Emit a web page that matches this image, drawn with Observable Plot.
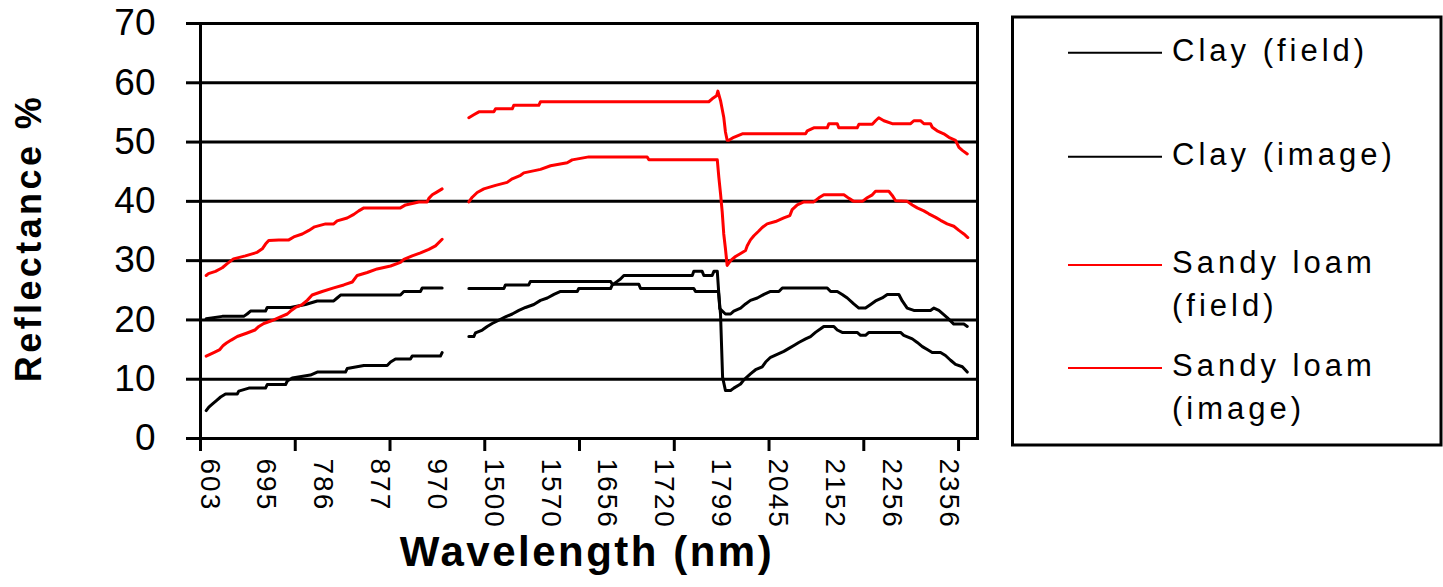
<!DOCTYPE html>
<html>
<head>
<meta charset="utf-8">
<script src="https://cdn.jsdelivr.net/npm/d3@7"></script>
<script src="https://cdn.jsdelivr.net/npm/@observablehq/plot@0.6"></script>
<style>
  html, body { margin: 0; padding: 0; background: #fff; }
  #wrap { position: relative; width: 1443px; height: 587px; }
  #legend { position: absolute; left: 0; top: 0; pointer-events: none; }
  #legend text { letter-spacing: 4px; }
</style>
</head>
<body>
<div id="wrap"></div>
<script>
// ---- Data (x = category index along the band axis, y = reflectance %) ----
const yTicks = [0, 10, 20, 30, 40, 50, 60, 70];
const tickPositions = [0, 5, 10, 15, 20, 25, 30, 35, 40];
const wavelengthLabels = [603, 695, 786, 877, 970, 1500, 1570, 1656, 1720, 1799, 2045, 2152, 2256, 2356];
const labelStep = 3;

const clayFieldLeft = [[0.30,20.2],[1.15,20.6],[2.28,20.6],[2.46,21.0],[2.64,21.5],[3.43,21.5],[3.52,22.1],[4.75,22.1],[5.54,22.6],[6.16,23.2],[7.03,23.2],[7.21,23.7],[7.39,24.2],[10.55,24.2],[10.73,24.8],[11.61,24.8],[11.70,25.4],[12.75,25.4]];
const clayFieldRight = [[14.16,25.3],[16.01,25.3],[16.09,25.9],[17.32,25.9],[17.41,26.5],[21.64,26.5],[21.73,26.0],[23.13,26.0],[23.22,25.3],[26.03,25.3],[26.12,24.8],[27.33,24.8],[27.44,21.0],[27.55,10.3],[27.70,8.1],[27.97,8.1],[28.14,8.5],[28.50,9.2],[28.67,9.9],[29.02,10.9],[29.29,11.6],[29.64,12.1],[29.82,12.9],[30.08,13.7],[30.43,14.2],[30.78,14.7],[31.05,15.2],[31.31,15.7],[31.57,16.2],[31.93,16.8],[32.19,17.2],[32.45,17.9],[32.72,18.5],[32.89,18.9],[33.42,18.9],[33.60,18.3],[33.86,17.9],[34.65,17.9],[34.83,17.4],[35.09,17.4],[35.27,17.9],[36.94,17.9],[37.11,17.4],[37.56,16.8],[37.82,16.2],[38.09,15.5],[38.35,15.0],[38.61,14.5],[39.05,14.5],[39.31,14.0],[39.58,13.2],[39.84,12.5],[40.20,12.1],[40.46,11.2]];

const clayImageLeft = [[0.30,4.7],[0.44,5.3],[0.62,5.8],[0.84,6.4],[1.06,7.0],[1.32,7.5],[1.94,7.5],[2.02,8.0],[2.55,8.5],[3.43,8.5],[3.52,9.1],[4.49,9.1],[4.58,9.7],[4.84,10.2],[5.80,10.7],[6.16,11.2],[7.65,11.2],[7.74,11.8],[8.62,12.3],[9.85,12.3],[10.03,12.9],[10.29,13.4],[11.08,13.4],[11.17,13.9],[12.66,13.9],[12.75,14.5]];
const clayImageRight = [[14.16,17.2],[14.42,17.2],[14.51,17.8],[14.87,18.3],[15.13,18.9],[15.39,19.4],[16.09,20.5],[16.45,21.0],[16.80,21.6],[17.15,22.1],[17.59,22.6],[17.94,23.3],[18.30,23.7],[18.65,24.3],[19.00,24.8],[19.88,24.8],[19.96,25.3],[21.64,25.3],[21.73,25.9],[21.99,26.5],[22.16,26.9],[22.34,27.5],[25.95,27.5],[26.03,28.2],[26.47,28.2],[26.56,27.5],[27.00,27.5],[27.09,28.2],[27.27,28.2],[27.35,24.4],[27.40,21.9],[27.70,21.0],[27.97,21.0],[28.14,21.5],[28.50,22.0],[28.76,22.7],[29.02,23.3],[29.38,23.7],[29.73,24.3],[30.08,24.8],[30.52,24.8],[30.70,25.4],[33.07,25.4],[33.25,24.8],[33.60,24.8],[33.86,24.3],[34.13,23.7],[34.47,22.7],[34.74,22.0],[35.09,22.0],[35.36,22.6],[35.62,23.2],[35.97,23.7],[36.24,24.3],[36.85,24.3],[37.03,23.2],[37.29,22.0],[37.64,21.6],[38.52,21.6],[38.70,22.0],[38.96,21.6],[39.22,20.9],[39.40,20.4],[39.75,19.3],[40.28,19.3],[40.46,18.9]];

const sandyFieldLeft = [[0.30,27.5],[0.42,27.8],[0.79,28.2],[1.15,28.8],[1.41,29.5],[1.74,30.3],[2.37,30.8],[2.99,31.4],[3.26,32.0],[3.43,32.8],[3.60,33.4],[4.13,33.5],[4.66,33.5],[4.92,34.0],[5.37,34.5],[5.72,35.1],[6.02,35.7],[6.60,36.2],[7.03,36.2],[7.21,36.7],[7.74,37.2],[8.09,37.8],[8.35,38.4],[8.62,38.9],[10.55,38.9],[10.82,39.4],[11.52,39.9],[11.96,39.9],[12.05,40.5],[12.23,41.1],[12.49,41.6],[12.75,42.1]];
const sandyFieldRight = [[14.16,54.1],[14.42,54.6],[14.69,55.1],[15.48,55.1],[15.57,55.6],[16.45,55.6],[16.53,56.2],[17.85,56.2],[17.94,56.8],[26.82,56.8],[27.00,57.3],[27.23,57.8],[27.30,58.6],[27.44,57.0],[27.61,54.2],[27.70,51.7],[27.79,50.3],[27.88,50.3],[28.14,50.8],[28.59,51.4],[31.93,51.4],[32.02,51.9],[32.36,52.4],[33.07,52.4],[33.16,53.1],[33.60,53.1],[33.68,52.4],[34.65,52.4],[34.74,53.0],[35.45,53.0],[35.62,53.6],[35.79,54.1],[36.06,53.6],[36.50,53.1],[37.47,53.1],[37.64,53.6],[37.99,53.6],[38.17,53.1],[38.52,53.1],[38.61,52.5],[38.87,51.9],[39.22,51.4],[39.49,50.8],[39.84,50.3],[40.02,49.1],[40.20,48.6],[40.46,48.0]];

const sandyImageLeft = [[0.30,13.9],[0.70,14.5],[1.02,15.0],[1.20,15.7],[1.37,16.1],[1.62,16.6],[1.94,17.2],[2.46,17.8],[2.87,18.3],[3.08,18.9],[3.34,19.4],[3.78,19.9],[4.22,20.5],[4.58,21.0],[4.75,21.5],[5.01,22.1],[5.37,22.6],[5.63,23.3],[5.89,24.2],[6.42,24.8],[7.03,25.4],[7.56,25.9],[8.01,26.4],[8.27,27.5],[8.80,28.0],[9.32,28.6],[10.03,29.1],[10.55,29.7],[10.73,30.2],[11.17,30.8],[11.61,31.3],[12.05,31.9],[12.40,32.5],[12.75,33.6]];
const sandyImageRight = [[14.16,39.9],[14.34,40.7],[14.60,41.5],[14.95,42.1],[15.57,42.7],[16.18,43.2],[16.45,43.8],[16.89,44.4],[17.06,44.8],[17.94,45.4],[18.47,46.0],[19.35,46.5],[19.61,47.0],[20.49,47.5],[23.57,47.5],[23.66,47.0],[27.27,47.0],[27.35,44.1],[27.44,41.3],[27.53,38.2],[27.61,34.5],[27.70,32.0],[27.79,29.2],[27.97,30.0],[28.23,30.7],[28.50,31.2],[28.76,31.7],[28.85,32.5],[29.02,33.5],[29.20,34.2],[29.46,35.0],[29.64,35.6],[29.90,36.2],[30.34,36.6],[30.78,37.2],[31.10,37.6],[31.22,38.6],[31.49,39.4],[31.84,39.9],[32.36,39.9],[32.63,40.6],[32.89,41.1],[33.95,41.1],[34.22,40.5],[34.47,40.0],[34.92,40.0],[35.18,40.6],[35.45,41.1],[35.62,41.7],[36.32,41.7],[36.50,41.0],[36.68,40.1],[37.29,40.0],[37.56,39.4],[37.82,38.9],[38.17,38.4],[38.43,37.9],[38.79,37.3],[39.05,36.8],[39.40,36.2],[39.75,35.8],[40.02,35.1],[40.28,34.5],[40.49,33.9]];

const seriesNames = ["Clay (field)", "Clay (image)", "Sandy loam (field)", "Sandy loam (image)"];
const seriesColors = ["#000000", "#000000", "#ff0000", "#ff0000"];
const seriesSegments = [
  [clayFieldLeft, clayFieldRight],
  [clayImageLeft, clayImageRight],
  [sandyFieldLeft, sandyFieldRight],
  [sandyImageLeft, sandyImageRight]
];
const legendLines = [["Clay (field)"], ["Clay (image)"], ["Sandy loam", "(field)"], ["Sandy loam", "(image)"]];
const xTitle = "Wavelength (nm)";
const yTitle = "Reflectance %";

// ---- Build table ----
const rows = [];
seriesNames.forEach((name, s) => {
  seriesSegments[s].forEach((seg, j) => {
    seg.forEach(([i, v]) => rows.push({i, v, key: name + "#" + j, color: seriesColors[s]}));
  });
});
const labelPositions = wavelengthLabels.map((_, k) => k * labelStep);

const chart = Plot.plot({
  width: 1443,
  height: 587,
  marginLeft: 200,
  marginRight: 466,
  marginTop: 23,
  marginBottom: 149,
  x: {domain: [0, 41]},
  y: {domain: [0, 70]},
  style: {fontFamily: "'Liberation Sans', Arial, sans-serif", background: "#fff", color: "#000", overflow: "visible"},
  marks: [
    Plot.ruleY(yTicks, {stroke: "#000", strokeWidth: 3}),
    Plot.frame({stroke: "#000", strokeWidth: 3}),
    Plot.axisY({ticks: yTicks, tickSize: 14, tickPadding: 31, fontSize: 37, strokeWidth: 3, label: null, tickFormat: d => String(d)}),
    Plot.axisX({ticks: tickPositions, tickSize: 13, tickPadding: 0, strokeWidth: 3, label: null, tickFormat: () => ""}),
    Plot.text(wavelengthLabels, {x: (d, k) => labelPositions[k], text: d => String(d), frameAnchor: "bottom", rotate: 90, textAnchor: "start", dy: 20, fontSize: 28, fill: "#000"}),
    Plot.line(rows, {x: "i", y: "v", z: "key", stroke: "color", strokeWidth: 3, curve: "linear"}),
    Plot.text([xTitle], {frameAnchor: "bottom", textAnchor: "middle", dx: -2, dy: 127, fontSize: 42, fontWeight: "bold", fill: "#000"}),
    Plot.text([yTitle], {frameAnchor: "left", textAnchor: "middle", rotate: -90, dx: -171, dy: 7, fontSize: 36, fontWeight: "bold", fill: "#000"})
  ]
});
const wrap = document.getElementById("wrap");
wrap.appendChild(chart);

// letter spacing to mimic the spaced bitmap font of the original
const labelSet = new Set(wavelengthLabels.map(String));
d3.select(chart).selectAll("text").each(function() {
  const t = this.textContent;
  if (t === xTitle) d3.select(this).style("letter-spacing", "2.5px");
  else if (t === yTitle) d3.select(this).style("letter-spacing", "3.4px");
  else if (labelSet.has(t)) d3.select(this).style("letter-spacing", "2px");
});

// ---- Legend (right-hand box) ----
const lg = d3.select(wrap).append("svg").attr("id", "legend").attr("width", 1443).attr("height", 587)
  .style("font-family", "'Liberation Sans', Arial, sans-serif");
lg.append("rect").attr("x", 1012.5).attr("y", 17).attr("width", 428.5).attr("height", 428)
  .attr("fill", "none").attr("stroke", "#000").attr("stroke-width", 3);
const lineYs = [52.7, 156.7, 265, 368];
legendLines.forEach((lines, k) => {
  const y = lineYs[k];
  lg.append("line").attr("x1", 1068).attr("x2", 1162).attr("y1", y).attr("y2", y)
    .attr("stroke", seriesColors[k]).attr("stroke-width", 2);
  const t = lg.append("text").attr("x", 1172).attr("y", y + 8).attr("font-size", 31).attr("fill", "#000");
  lines.forEach((ln, j) => t.append("tspan").attr("x", 1172).attr("dy", j === 0 ? 0 : 43).text(ln));
});
</script>
</body>
</html>
